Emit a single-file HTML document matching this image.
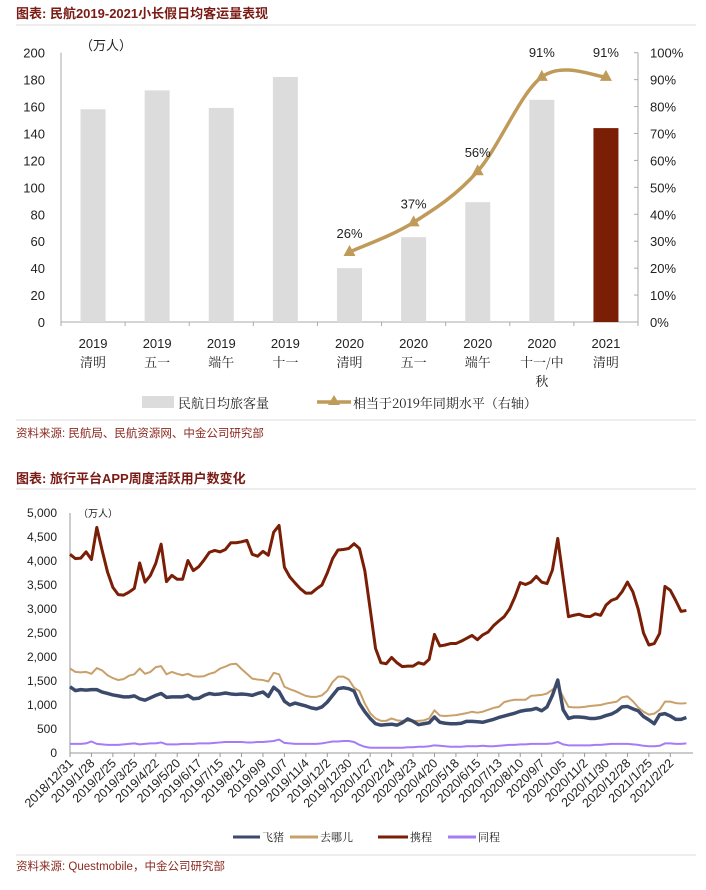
<!DOCTYPE html>
<html><head><meta charset="utf-8">
<style>
body{margin:0;background:#fff;width:706px;height:890px;overflow:hidden;font-family:"Liberation Sans","Noto Sans CJK SC",sans-serif;}
svg{position:absolute;left:0;top:0;}
</style></head>
<body>
<svg id="svg" width="706" height="890" xmlns="http://www.w3.org/2000/svg" font-family="Liberation Sans, Noto Sans CJK SC, sans-serif">
<text x="16" y="18" font-size="13" font-weight="bold" fill="#7a1a14">图表: 民航2019-2021小长假日均客运量表现</text>
<line x1="16" y1="25" x2="696" y2="25" stroke="#ddd"/>
<g id="c1"></g>
<line x1="16" y1="420" x2="696" y2="420" stroke="#ddd"/>
<text x="16" y="437" font-size="11.5" fill="#8b2a20">资料来源: 民航局、民航资源网、中金公司研究部</text>
<text x="16" y="483" font-size="13" font-weight="bold" fill="#7a1a14">图表: 旅行平台APP周度活跃用户数变化</text>
<line x1="16" y1="489" x2="696" y2="489" stroke="#ddd"/>
<g id="c2"></g>
<line x1="16" y1="855" x2="696" y2="855" stroke="#ddd"/>
<text x="16" y="870" font-size="11.5" fill="#8b2a20">资料来源: Questmobile，中金公司研究部</text>
</svg>
<script>
const catYears=["2019","2019","2019","2019","2020","2020","2020","2020","2021"];
const catNames=["清明","五一","端午","十一","清明","五一","端午","十一/中","清明"];
const barValues=[158,172,159,182,40,63,89,165,144];
const pctValues=[null,null,null,null,26,37,56,91,91];
const leftTicks=[0,20,40,60,80,100,120,140,160,180,200];
const rightTicks=[0,10,20,30,40,50,60,70,80,90,100];

const weekLabels=["2018/12/31","2019/1/28","2019/2/25","2019/3/25","2019/4/22","2019/5/20","2019/6/17","2019/7/15","2019/8/12","2019/9/9","2019/10/7","2019/11/4","2019/12/2","2019/12/30","2020/1/27","2020/2/24","2020/3/23","2020/4/20","2020/5/18","2020/6/15","2020/7/13","2020/8/10","2020/9/7","2020/10/5","2020/11/2","2020/11/30","2020/12/28","2021/1/25","2021/2/22"];
const yTicks2=[0,500,1000,1500,2000,2500,3000,3500,4000,4500,5000];
const ctrip=[4140,4050,4060,4190,4030,4700,4220,3770,3450,3300,3290,3350,3430,3960,3560,3700,3950,4350,3570,3700,3620,3620,4010,3800,3880,4020,4180,4220,4190,4240,4380,4380,4400,4430,4140,4100,4200,4120,4600,4740,3870,3670,3540,3420,3330,3330,3420,3500,3750,4050,4230,4240,4260,4360,4260,3800,3000,2180,1880,1860,1990,1880,1800,1810,1810,1880,1850,1950,2470,2230,2250,2280,2280,2330,2390,2450,2360,2460,2520,2650,2750,2840,3000,3250,3550,3510,3560,3680,3560,3530,3810,4470,3650,2840,2870,2890,2850,2840,2900,2870,3080,3180,3220,3360,3560,3360,3000,2500,2250,2280,2490,3470,3390,3180,2950,2970];
const qunar=[1760,1690,1680,1690,1650,1770,1720,1620,1560,1520,1540,1610,1640,1760,1650,1690,1790,1810,1640,1690,1650,1620,1650,1600,1590,1600,1650,1680,1760,1800,1850,1860,1750,1650,1550,1530,1520,1490,1670,1640,1380,1330,1290,1240,1190,1170,1170,1200,1300,1480,1590,1590,1530,1360,1290,1030,830,720,670,670,720,680,670,670,670,670,680,720,890,780,770,780,790,810,830,860,840,860,900,940,960,1060,1090,1110,1110,1110,1190,1200,1210,1240,1320,1390,1170,960,950,950,960,980,990,1000,1030,1050,1070,1160,1180,1080,950,860,800,820,900,1070,1070,1040,1030,1040];
const fliggy=[1380,1300,1320,1310,1320,1320,1270,1240,1210,1190,1170,1170,1190,1130,1100,1150,1200,1240,1160,1170,1170,1170,1200,1130,1140,1200,1240,1220,1230,1250,1230,1220,1230,1220,1200,1240,1270,1180,1370,1280,1080,1000,1040,1010,980,940,920,960,1060,1200,1340,1360,1340,1290,1030,860,720,610,580,590,600,580,630,710,660,590,610,630,750,640,620,610,610,620,660,660,650,640,670,700,740,770,800,830,870,890,900,930,880,960,1200,1520,900,720,750,750,740,720,720,740,780,810,870,960,970,920,880,760,690,610,800,820,770,700,700,740];
const tongcheng=[190,190,190,200,240,190,180,170,170,170,180,190,200,180,190,200,200,220,180,180,180,190,190,190,200,200,200,210,220,230,230,230,230,220,220,230,230,240,250,280,210,200,190,190,190,190,190,200,220,240,240,250,250,230,170,130,110,110,110,110,110,110,110,120,120,130,130,140,160,150,140,130,130,130,140,140,140,150,140,140,150,160,170,170,180,180,190,190,190,190,200,230,180,160,160,160,160,160,170,170,180,190,190,190,190,180,170,150,140,140,150,200,200,190,190,200];

const NS="http://www.w3.org/2000/svg";
function mk(p,tag,attrs,txt){const e=document.createElementNS(NS,tag);for(const k in attrs)e.setAttribute(k,attrs[k]);if(txt!=null)e.textContent=txt;p.appendChild(e);return e;}

/* chart 1 */
const c1=document.getElementById('c1');
const L1=61,R1=638,T1=52.7,B1=322;
const y1=v=>B1-(v/200)*(B1-T1);
const yr=v=>B1-(v/100)*(B1-T1);
const bw=(R1-L1)/catYears.length;
const xc=i=>L1+bw*(i+0.5);
mk(c1,'line',{x1:L1,y1:T1,x2:L1,y2:B1,stroke:'#aaa'});
mk(c1,'line',{x1:R1,y1:T1,x2:R1,y2:B1,stroke:'#aaa'});
mk(c1,'line',{x1:L1,y1:B1,x2:R1,y2:B1,stroke:'#aaa'});
leftTicks.forEach(t=>{const e=mk(c1,'text',{x:45,y:y1(t)+5,'font-size':13,'text-anchor':'end',fill:'#222'},t);

});
rightTicks.forEach(t=>{mk(c1,'line',{x1:R1,y1:yr(t),x2:R1-4,y2:yr(t),stroke:'#aaa'});const e=mk(c1,'text',{x:650,y:yr(t)+5,'font-size':13,fill:'#222'},t+'%');

});
for(let i=0;i<=catYears.length;i++)mk(c1,'line',{x1:L1+bw*i,y1:B1,x2:L1+bw*i,y2:B1+4,stroke:'#aaa'});
const u1=mk(c1,'text',{x:80,y:50,'font-size':13,fill:'#222'},'（万人）');


barValues.forEach((v,i)=>{const b=mk(c1,'rect',{x:xc(i)-12.5,y:y1(v),width:25,height:B1-y1(v),fill:i==8?'#7a1e06':'#dcdcdc'});


const t1=mk(c1,'text',{x:xc(i),y:348,'font-size':13,'text-anchor':'middle',fill:'#222'},catYears[i]);


const t2=mk(c1,'text',{x:xc(i),y:367,'font-size':13,'text-anchor':'middle',fill:'#222','font-family':'Noto Serif CJK SC, serif'},catNames[i]);


if(i==7){const t3=mk(c1,'text',{x:xc(i),y:386,'font-size':13,'text-anchor':'middle',fill:'#222','font-family':'Noto Serif CJK SC, serif'},'秋');

}
});
const pts=[];pctValues.forEach((v,i)=>{if(v!=null)pts.push([xc(i),yr(v),v]);});
let d='M'+pts[0][0]+','+pts[0][1];
for(let i=0;i<pts.length-1;i++){const p0=pts[Math.max(0,i-1)],p1=pts[i],p2=pts[i+1],p3=pts[Math.min(pts.length-1,i+2)];
d+=' C'+(p1[0]+(p2[0]-p0[0])/6)+','+(p1[1]+(p2[1]-p0[1])/6)+' '+(p2[0]-(p3[0]-p1[0])/6)+','+(p2[1]-(p3[1]-p1[1])/6)+' '+p2[0]+','+p2[1];}
const ln=mk(c1,'path',{d:d,fill:'none',stroke:'#c09a58','stroke-width':3.5});


pts.forEach(p=>{const m=mk(c1,'path',{d:`M${p[0]},${p[1]-7} L${p[0]+6},${p[1]+4} L${p[0]-6},${p[1]+4}Z`,fill:'#c09a58'});


const l=mk(c1,'text',{x:p[0],y:p[1]-14,'font-size':13,'text-anchor':'middle',fill:'#222'},p[2]+'%');
if(p[2]>=90)l.setAttribute('y',57);

});
const lg1=mk(c1,'rect',{x:142,y:396,width:32,height:12,fill:'#dcdcdc'});


const lt1=mk(c1,'text',{x:178,y:408,'font-size':13,fill:'#222','font-family':'Noto Serif CJK SC, serif'},'民航日均旅客量');


const lg2=mk(c1,'line',{x1:317,y1:402,x2:351,y2:402,stroke:'#c09a58','stroke-width':3.5});


mk(c1,'path',{d:'M334,395 L340,405 L328,405Z',fill:'#c09a58'});
const lt2=mk(c1,'text',{x:353,y:408,'font-size':13,fill:'#222','font-family':'Noto Serif CJK SC, serif'},'相当于2019年同期水平（右轴）');



/* chart 2 */
const c2=document.getElementById('c2');
const L2=70,R2=693,T2=513,B2=753;
const y2=v=>B2-(v/5000)*(B2-T2);
const wk=5.36;
const x2=i=>L2+i*wk;
mk(c2,'line',{x1:L2,y1:T2,x2:L2,y2:B2,stroke:'#999'});
mk(c2,'line',{x1:L2,y1:B2,x2:R2,y2:B2,stroke:'#999'});
yTicks2.forEach(t=>{const e=mk(c2,'text',{x:57,y:y2(t)+4,'font-size':12,'text-anchor':'end',fill:'#222'},t.toLocaleString('en-US'));

});
weekLabels.forEach((lab,i)=>{const x=x2(i*4);mk(c2,'line',{x1:x,y1:B2,x2:x,y2:B2+4,stroke:'#999'});
const e=mk(c2,'text',{x:x+4,y:B2+11,'font-size':12.5,'text-anchor':'end',fill:'#222',transform:`rotate(-45 ${x+4} ${B2+11})`},lab);

});
const u2=mk(c2,'text',{x:78,y:517,'font-size':10,fill:'#222'},'（万人）');


const series=[[tongcheng,'#a57cf5',2,'同程','tongcheng'],[qunar,'#c9a06a',2,'去哪儿','qunar'],[fliggy,'#3b4a6b',3.5,'飞猪','fliggy'],[ctrip,'#7a1e06',3,'携程','ctrip']];
series.forEach(s=>{const p=mk(c2,'polyline',{points:s[0].map((v,i)=>x2(i)+','+y2(v)).join(' '),fill:'none',stroke:s[1],'stroke-width':s[2],'stroke-linejoin':'round'});

});
const leg=[[233,262,'#3b4a6b','飞猪'],[290,320,'#c9a06a','去哪儿'],[378,410,'#7a1e06','携程'],[448,478,'#a57cf5','同程']];
leg.forEach(l=>{const a=mk(c2,'line',{x1:l[0],y1:837,x2:l[1]-2,y2:837,stroke:l[2],'stroke-width':3});


const t=mk(c2,'text',{x:l[1],y:841,'font-size':11,fill:'#222','font-family':'Noto Serif CJK SC, serif'},l[3]);

});
</script>
</body></html>
